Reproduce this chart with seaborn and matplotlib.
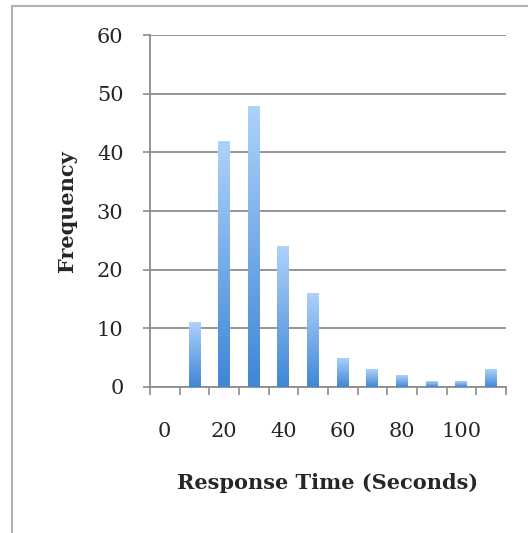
import matplotlib
matplotlib.use("Agg")
import matplotlib.pyplot as plt
import seaborn as sns
import numpy as np
import pandas as pd
from matplotlib.colors import LinearSegmentedColormap
from matplotlib.patches import Rectangle

categories = [0, 10, 20, 30, 40, 50, 60, 70, 80, 90, 100, 110]
frequency = [0, 11, 42, 48, 24, 16, 5, 3, 2, 1, 1, 3]
tick_labels = ["0", "", "20", "", "40", "", "60", "", "80", "", "100", ""]
y_ticks = [0, 10, 20, 30, 40, 50, 60]

sns.set_theme(style="white")
plt.rcParams['font.family'] = ['DejaVu Serif']

df = pd.DataFrame({"Response": [str(c) for c in categories], "Frequency": frequency})

fig = plt.figure(figsize=(5.28, 5.33), dpi=100)
ax = fig.add_axes([0.284, 0.274, 0.674, 0.66])

sns.barplot(data=df, x="Response", y="Frequency", order=[str(c) for c in categories],
            width=0.4, color="#6aa6e6", ax=ax, saturation=1, zorder=3, linewidth=0)

cmap = LinearSegmentedColormap.from_list("g", ["#3f86d6", "#aed2fa"])
grad = np.linspace(0, 1, 256).reshape(-1, 1)
for p in ax.patches:
    h = p.get_height()
    if h <= 0:
        p.set_visible(False)
        continue
    x0 = p.get_x(); w = p.get_width()
    im = ax.imshow(grad, cmap=cmap, origin="lower", aspect="auto",
                   extent=[x0, x0 + w, 0, h], zorder=4)
    im.set_clip_path(p)

ax.set_xlim(-0.5, 11.5)
ax.set_ylim(0, 60)
ax.set_yticks(y_ticks)
ax.set_yticklabels([str(v) for v in y_ticks], fontsize=15)
ax.yaxis.grid(True, color="#8c8c8c", linewidth=1.3, zorder=0)
ax.set_axisbelow(True)

ax.set_xticks(range(len(categories)))
ax.set_xticklabels(tick_labels, fontsize=15)
ax.set_xticks(np.arange(-0.5, len(categories), 1.0), minor=True)
ax.tick_params(axis="x", which="major", length=0, pad=25)
ax.tick_params(axis="x", which="minor", length=6, width=1.2, color="#8c8c8c", direction="out", bottom=True)
ax.tick_params(axis="y", which="major", length=5, width=1.2, color="#8c8c8c", direction="out", left=True, pad=14)

for s in ["top", "right"]:
    ax.spines[s].set_visible(False)
for s in ["left", "bottom"]:
    ax.spines[s].set_color("#8c8c8c")
    ax.spines[s].set_linewidth(1.3)

ax.set_xlabel("Response Time (Seconds)", fontsize=15, fontweight="bold", labelpad=23)
ax.set_ylabel("Frequency", fontsize=15, fontweight="bold", labelpad=14)

fig.patches.append(Rectangle((12 / 528, -0.1), 1.2, 1 - 6 / 533 + 0.1, transform=fig.transFigure,
                             fill=False, edgecolor="#b0b0b0", linewidth=1.5))

fig.savefig("out.png", dpi=100)
